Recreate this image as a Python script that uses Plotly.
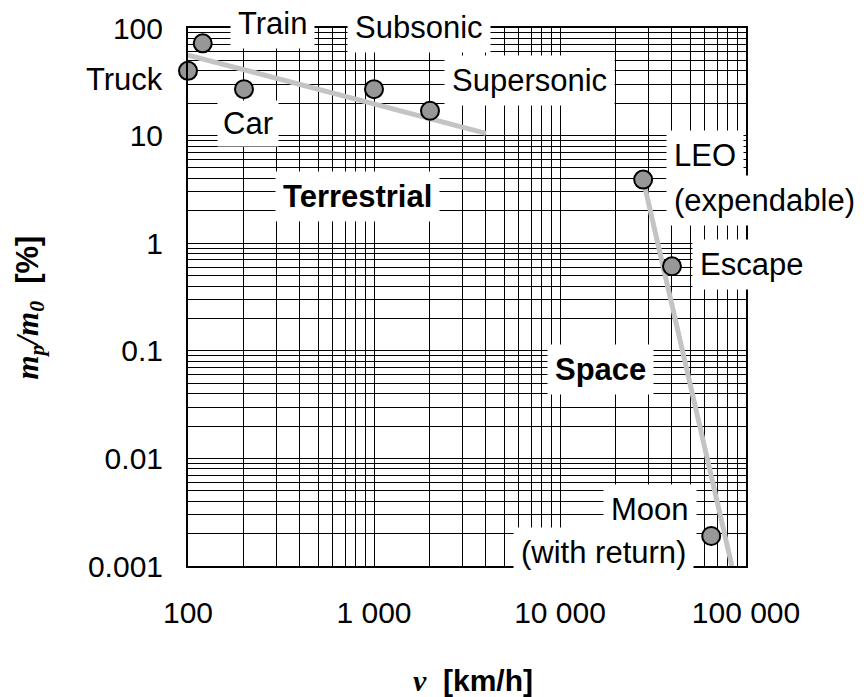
import numpy as np
import plotly.graph_objects as go

# ---- data ----
vehicles = ["Truck", "Train", "Car", "Subsonic", "Supersonic", "LEO", "Escape", "Moon"]
speed_kmh = [100, 120, 200, 1000, 2000, 28000, 40000, 65000]
payload_pct = [40, 72, 27, 27, 17, 3.9, 0.61, 0.0019]

terrestrial_fit_v = [100, 4000]
terrestrial_fit_r = [56, 10.5]
space_fit_v = [28000, 84000]
space_fit_r = [3.9, 0.001]

x_tick_vals = [100, 1000, 10000, 100000]
y_tick_vals = [0.001, 0.01, 0.1, 1, 10, 100]

FONT = "Liberation Sans, Arial, sans-serif"
SERIF = "Liberation Serif, Times New Roman, serif"
LINE_GREY = "#c4c4c4"
MARKER_GREY = "#979797"

fig = go.Figure()

for fv, fr in [(terrestrial_fit_v, terrestrial_fit_r), (space_fit_v, space_fit_r)]:
    fig.add_trace(go.Scatter(
        x=fv, y=fr, mode="lines",
        line=dict(color=LINE_GREY, width=5),
        cliponaxis=True, showlegend=False, hoverinfo="skip"))

fig.add_trace(go.Scatter(
    x=speed_kmh, y=payload_pct, mode="markers", text=vehicles,
    marker=dict(size=18, color=MARKER_GREY, line=dict(color="black", width=2)),
    cliponaxis=False, showlegend=False))

# labels attached to points: (text, point index, xshift, yshift, xanchor, pad)
point_labels = [
    ("Truck", 0, -17, -9, "right", 7),
    ("Train", 1, 70, 20, "center", 7),
    ("Subsonic", 3, 45, 62, "center", 7),
    ("Car", 2, 4, -34, "center", 5),
    ("Supersonic", 4, 100, 30, "center", 7),
    ("LEO", 5, 23, 24, "left", 7),
    ("(expendable)", 5, 23, -21, "left", 7),
    ("Escape", 6, 20, 2, "left", 7),
    ("Moon", 7, -14, 27, "right", 7),
    ("(with return)", 7, -17, -16, "right", 7),
]
for txt, i, xs, ys, xa, pad in point_labels:
    fig.add_annotation(
        x=np.log10(speed_kmh[i]), y=np.log10(payload_pct[i]), xref="x", yref="y",
        text=txt, showarrow=False, xshift=xs, yshift=ys,
        xanchor=xa, yanchor="middle", bgcolor="white", borderpad=pad,
        font=dict(family=FONT, size=31, color="black"))

# region labels
for txt, px, py in [("<b>Terrestrial</b>", 0.303, 0.687), ("<b>Space</b>", 0.740, 0.365)]:
    fig.add_annotation(
        x=px, y=py, xref="paper", yref="paper", text=txt, showarrow=False,
        xanchor="center", yanchor="middle", bgcolor="white", borderpad=7,
        font=dict(family=FONT, size=31, color="black"))

# axis titles
fig.add_annotation(
    x=0.51, y=-0.213, xref="paper", yref="paper", showarrow=False,
    xanchor="center", yanchor="middle",
    text=f'<b><i><span style="font-family:{SERIF}">v</span></i>\u00a0\u00a0[km/h]</b>',
    font=dict(family=FONT, size=30, color="black"))
fig.add_annotation(
    x=-0.283, y=0.4805, xref="paper", yref="paper", showarrow=False,
    xanchor="center", yanchor="middle", textangle=-90,
    text=(f'<b><i><span style="font-family:{SERIF}">m<sub>p</sub>/m<sub>0</sub></span></i>'
          '\u00a0\u00a0[%]</b>'),
    font=dict(family=FONT, size=31, color="black"))

axis_common = dict(
    type="log", showgrid=True, gridcolor="black", gridwidth=1,
    showline=True, linecolor="black", linewidth=2, mirror=True,
    ticks="", zeroline=False,
    tickfont=dict(family=FONT, size=30, color="black"),
    minor=dict(dtick="D1", showgrid=True, gridcolor="black", gridwidth=1, ticks=""),
)

fig.update_layout(
    width=864, height=697,
    margin=dict(l=188, r=118, t=28, b=131),
    paper_bgcolor="white", plot_bgcolor="white",
    separators=". ",
    font=dict(family=FONT, color="black"),
    showlegend=False,
    xaxis=dict(range=[np.log10(x_tick_vals[0]), np.log10(x_tick_vals[-1])],
               dtick=1, tickformat=",", ticklabelstandoff=19, **axis_common),
    yaxis=dict(range=[np.log10(y_tick_vals[0]), np.log10(y_tick_vals[-1])],
               dtick=1, ticklabelstandoff=17, **axis_common),
)

fig.write_html("out.html")
